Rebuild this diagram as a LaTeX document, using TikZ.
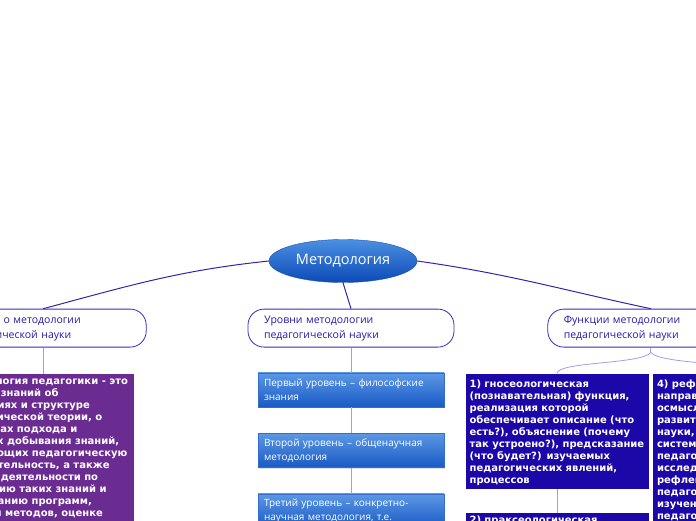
\documentclass[tikz,border=0pt]{standalone}
\usepackage{fontspec}
\newfontfamily\labelfont{Open Sans}
\newfontfamily\boxfont{DejaVu Sans}
\usetikzlibrary{shapes.geometric, positioning, shadows}

\definecolor{hubtop}{RGB}{74,144,226}
\definecolor{hubbottom}{RGB}{12,74,184}
\definecolor{hubedge}{RGB}{30,80,180}
\definecolor{rim}{RGB}{58,42,190}
\definecolor{headtext}{RGB}{40,24,170}
\definecolor{link}{RGB}{50,36,176}
\definecolor{twig}{RGB}{165,155,228}
\definecolor{lvltop}{RGB}{92,152,228}
\definecolor{lvlbottom}{RGB}{24,90,198}
\definecolor{lvledge}{RGB}{50,110,205}
\definecolor{defcolor}{RGB}{106,44,144}
\definecolor{funccolor}{RGB}{28,8,168}

\begin{document}
\begin{tikzpicture}[
        x=1pt, y=-1pt,
        node distance=26pt,
        hub/.style={ellipse, minimum width=148pt, minimum height=43pt, draw=hubedge, top color=hubtop, bottom color=hubbottom, text=white, font=\labelfont\fontsize{14.5}{17}\selectfont},
        header/.style={rectangle, rounded corners=16pt, minimum width=206pt, minimum height=38pt, text width=174pt, align=left, draw=rim, line width=0.8pt, fill=white, text=headtext, font=\labelfont\fontsize{10.5}{15}\selectfont},
        level/.style={rectangle, minimum width=186pt, minimum height=34pt, text width=174pt, align=left, draw=lvledge, line width=0.5pt, top color=lvltop, bottom color=lvlbottom, text=white, drop shadow={shadow xshift=1pt, shadow yshift=-1.5pt, opacity=0.25}, font=\labelfont\fontsize{10}{14}\selectfont},
        defbox/.style={rectangle, minimum width=184pt, inner xsep=6pt, inner ysep=3.5pt, align=left, fill=defcolor, text=white, font=\boxfont\bfseries\fontsize{10}{12}\selectfont},
        funcbox/.style={rectangle, minimum width=183pt, text width=175pt, text height=10pt, inner xsep=4pt, inner ysep=3.5pt, align=left, fill=funccolor, text=white, font=\boxfont\bfseries\fontsize{10}{12}\selectfont},
        link/.style={draw=link, line width=1pt},
        twig/.style={draw=twig, line width=0.8pt}
    ]
        \useasboundingbox (0,0) rectangle (696,520);
        \clip (0,0) rectangle (696,520);

        % Centre
        \node (hub) [hub] at (343,261) {Методология};

        % Branch headers
        \node (levels) [header, below=26pt of hub, xshift=8pt] {Уровни методологии\\ педагогической науки};
        \node (concept) [header, left=101pt of levels] {Понятие о методологии\\ педагогической науки};
        \node (functions) [header, right=93pt of levels] {Функции методологии\\ педагогической науки};

        % Definition
        \node (defn) [defbox, below left=26pt and -91pt of concept.south] {Методология педагогики - это\\ система знаний об\\ основаниях и структуре\\ педагогической теории, о\\ принципах подхода и\\ способах добывания знаний,\\ отражающих педагогическую\\ действительность, а также\\ система деятельности по\\ получению таких знаний и\\ обоснованию программ,\\ логики и методов, оценке};

        % Levels
        \node (lvl1) [level, below=25pt of levels] {Первый уровень – философские\\ знания};
        \node (lvl2) [level, below=26pt of lvl1] {Второй уровень – общенаучная\\ методология};
        \node (lvl3) [level, below=26pt of lvl2] {Третий уровень – конкретно-\\ научная методология, т.е.};

        % Functions
        \coordinate (fork) at ([yshift=-5pt]functions.south);
        \node (gnos) [funcbox, below left=26pt and 2pt of functions.south] {1) гносеологическая\\ (познавательная) функция,\\ реализация которой\\ обеспечивает описание (что\\ есть?), объяснение (почему\\ так устроено?), предсказание\\ (что будет?) изучаемых\\ педагогических явлений,\\ процессов};
        \node (praxis) [funcbox, text height=7pt, text depth=40pt, below=24pt of gnos] {2) праксеологическая};
        \node (refl) [funcbox, below right=26pt and 2pt of functions.south] {4) рефлексивная функция,\\ направленная на\\ осмысление путей\\ развития педагогической\\ науки, анализ ее\\ системы понятий,\\ педагогического\\ исследования,\\ рефлексия\\ педагога-исследователя,\\ изучение\\ педагогических};

        % Links from the centre
        \draw [link] (hub.west) to[out=186, in=15] (concept.north);
        \draw [link] (hub.south) -- (levels.north);
        \draw [link] (hub.east) to[out=-8, in=168] (functions.north);

        % Branch twigs
        \draw [twig] (concept.south) -- (concept.south |- defn.north);
        \draw [twig] (levels.south) -- (lvl1.north);
        \draw [twig] (lvl1.south) -- (lvl2.north);
        \draw [twig] (lvl2.south) -- (lvl3.north);
        \draw [twig] (functions.south) -- (fork);
        \draw [twig] (fork) .. controls ([shift={(-10pt,-12pt)}]fork) and ([yshift=12pt]gnos.north) .. (gnos.north);
        \draw [twig] (fork) .. controls ([shift={(10pt,-12pt)}]fork) and ([yshift=12pt]refl.north) .. (refl.north);
        \draw [twig] (gnos.south) -- (praxis.north);

    \end{tikzpicture}
\end{document}
